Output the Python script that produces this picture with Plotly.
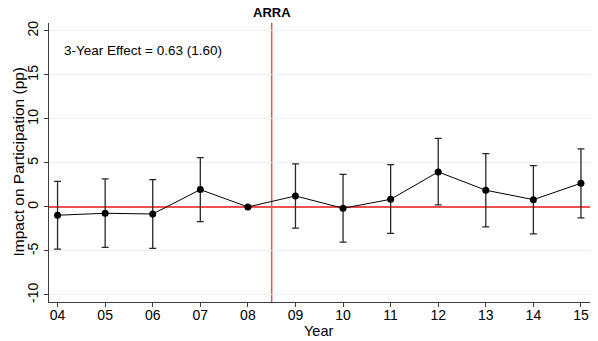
import plotly.graph_objects as go

years = [4, 5, 6, 7, 8, 9, 10, 11, 12, 13, 14, 15]
year_labels = ["04", "05", "06", "07", "08", "09", "10", "11", "12", "13", "14", "15"]
estimate = [-0.94, -0.72, -0.8, 1.97, 0.0, 1.25, -0.15, 0.87, 3.98, 1.9, 0.83, 2.69]
ci_upper = [2.9, 3.2, 3.1, 5.6, 0.0, 4.9, 3.7, 4.8, 7.8, 6.05, 4.7, 6.6]
ci_lower = [-4.8, -4.6, -4.7, -1.67, 0.0, -2.4, -4.0, -3.0, 0.23, -2.27, -3.07, -1.25]
y_ticks = [-10, -5, 0, 5, 10, 15, 20]
y_tick_labels = ["-10", "-5", "0", "5", "10", "15", "20"]
policy_x = 8.5

err_plus = [u - e for u, e in zip(ci_upper, estimate)]
err_minus = [e - l for e, l in zip(estimate, ci_lower)]

red = "rgb(238,80,80)"
font = "Liberation Sans, Arial, sans-serif"

W, H = 598, 341
ML, MR, MT, MB = 49, 8, 23, 39
PW, PH = W - ML - MR, H - MT - MB

fig = go.Figure()
fig.add_trace(go.Scatter(
    x=years, y=estimate, mode="lines+markers",
    line=dict(color="black", width=1),
    marker=dict(color="black", size=7),
    error_y=dict(type="data", symmetric=False, array=err_plus, arrayminus=err_minus,
                 color="rgb(40,40,40)", thickness=1.3, width=3.5),
    showlegend=False, hoverinfo="skip",
))

fig.add_vline(x=policy_x, line=dict(color=red, width=1.5), layer="below")

fig.add_annotation(x=policy_x, y=1, xref="x", yref="paper", yanchor="bottom", yshift=1,
                   text="<b>ARRA</b>", showarrow=False, font=dict(size=13, color="black", family=font))
fig.add_annotation(x=0.024, y=17.8, xref="paper", yref="y", xanchor="left",
                   text="3-Year Effect = 0.63 (1.60)", showarrow=False,
                   font=dict(size=13.5, color="black", family=font))
fig.add_annotation(x=(18 - ML) / PW, y=(H - MB - 161.5) / PH,
                   xref="paper", yref="paper", xanchor="center", yanchor="middle",
                   text="Impact on Participation (pp)", textangle=-90, showarrow=False,
                   font=dict(size=15.5, color="black", family=font))
fig.add_annotation(x=(318.5 - ML) / PW, y=(H - MB - 331) / PH,
                   xref="paper", yref="paper", xanchor="center", yanchor="middle",
                   text="Year", showarrow=False,
                   font=dict(size=14.5, color="black", family=font))

fig.update_layout(
    width=W, height=H,
    margin=dict(l=ML, r=MR, t=MT, b=MB),
    plot_bgcolor="white", paper_bgcolor="white",
    font=dict(family=font, size=14, color="black"),
    xaxis=dict(range=[3.82, 15.19], tickvals=years, ticktext=year_labels, automargin=False,
               showgrid=False, zeroline=False, showline=True, linecolor="rgb(60,60,60)", linewidth=1.3,
               ticks="outside", ticklen=4, tickcolor="rgb(60,60,60)", tickfont=dict(size=14),
               ticklabelstandoff=-4),
    yaxis=dict(range=[-10.8, 20.9], tickvals=y_ticks, ticktext=y_tick_labels, tickangle=-90,
               automargin=False,
               showgrid=True, gridcolor="rgb(234,240,242)", gridwidth=1,
               zeroline=True, zerolinecolor=red, zerolinewidth=1.5,
               showline=True, linecolor="rgb(60,60,60)", linewidth=1.3,
               ticks="outside", ticklen=4, tickcolor="rgb(60,60,60)", tickfont=dict(size=14)),
)

fig.write_html("out.html", config={"displayModeBar": False},
               post_script="document.body.style.margin='0';document.body.style.overflow='hidden';")
